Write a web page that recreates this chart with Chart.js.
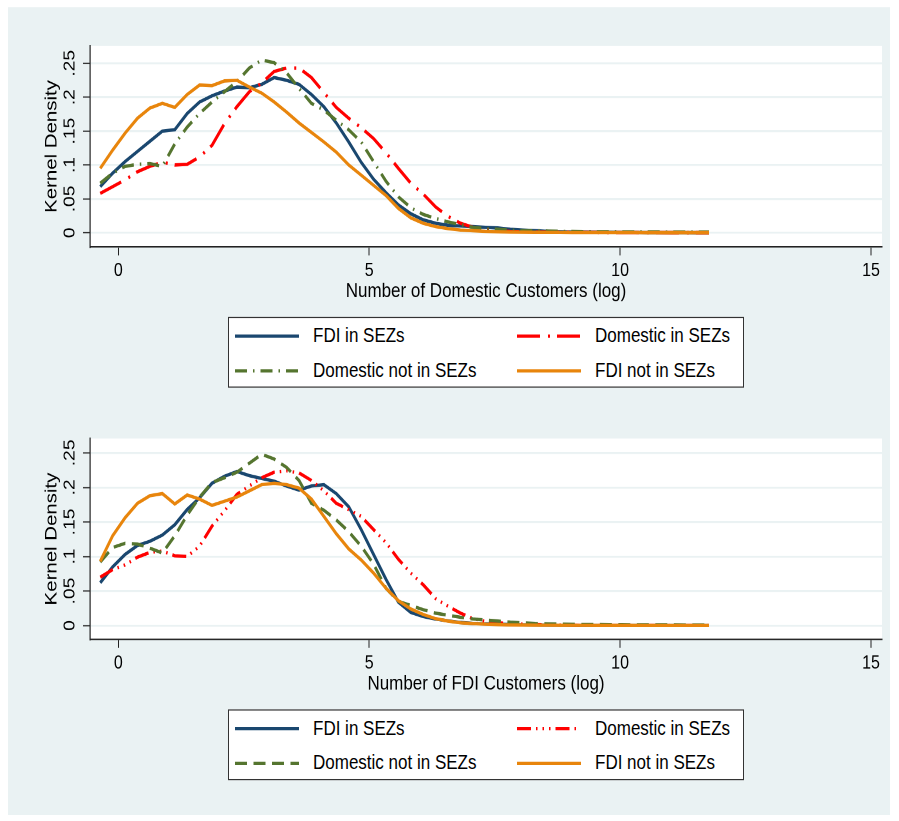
<!DOCTYPE html>
<html>
<head>
<meta charset="utf-8">
<title>Kernel density of customers</title>
<script src="https://cdn.jsdelivr.net/npm/chart.js@4.4.0/dist/chart.umd.min.js"></script>
<style>
  html, body { margin: 0; padding: 0; background: #fff; }
  body { width: 899px; height: 821px; overflow: hidden; }
  #frame { width: 899px; height: 821px; position: relative; overflow: hidden; }
  /* the picture is stretched vertically, so the whole page is drawn short and scaled */
  #page { position: absolute; left: 0; top: 0; width: 899px; height: 684px; transform: scaleY(1.2003); transform-origin: 0 0;
          font-family: "Liberation Sans", Arial, sans-serif; }
  #bg { position: absolute; left: 8px; top: 5.8px; width: 882px; height: 673.2px; background: #eaf2f3; }
  .panel { position: absolute; left: 0; width: 899px; height: 262px; }
  .legend { position: absolute; left: 228px; width: 514px; height: 57px; background: #fff; border: 1px solid #333; }
  .item { position: absolute; height: 20px; line-height: 20px; font-size: 17px; color: #000;
          white-space: nowrap; display: flex; align-items: center; }
  .item svg { margin-right: 14px; display: block; }
</style>
</head>
<body>
<div id="frame">
<div id="page">
  <div id="bg"></div>
  <div class="panel" style="top:0px"><canvas id="chart-domestic"></canvas></div>
  <div class="legend" id="legend-domestic" style="top:264.2px"></div>
  <div class="panel" style="top:327.3px"><canvas id="chart-fdi"></canvas></div>
  <div class="legend" id="legend-fdi" style="top:590.8px"></div>
</div>
</div>
<script>
// evaluation grid of the kernel densities (log number of customers)
var xGrid = [-0.36, -0.112, 0.135, 0.383, 0.630, 0.878, 1.126, 1.373, 1.621, 1.868,
             2.116, 2.364, 2.611, 2.859, 3.106, 3.354, 3.602, 3.849, 4.097, 4.344,
             4.592, 4.840, 5.087, 5.335, 5.582, 5.830, 6.078, 6.325, 6.573, 6.820,
             7.068, 7.316, 7.563, 7.811, 8.058, 8.306, 8.554, 8.801, 9.049, 9.296,
             9.544, 9.792, 10.039, 10.287, 10.534, 10.782, 11.030, 11.277, 11.525, 11.772];

var seriesLabels = ["FDI in SEZs", "Domestic in SEZs", "Domestic not in SEZs", "FDI not in SEZs"];

var xTicks = [0, 5, 10, 15];
var yTicks = [0, 0.05, 0.1, 0.15, 0.2, 0.25];
var yTickLabels = ["0", ".05", ".1", ".15", ".2", ".25"];

// top panel: number of domestic customers
var domFdiIn = [.068, .088, .105, .120, .135, .150, .152, .176, .193, .202,
                .209, .215, .214, .219, .229, .225, .219, .204, .186, .162,
                .134, .104, .079, .059, .041, .028, .019, .014, .011, .010,
                .009, .008, .007, .005, .004, .003, .002, .0015, .001, .001,
                .0008, .0006, .0005, .0004, .0003, .0003, .0002, .0002, .0001, .0001];
var domDomIn = [.058, .068, .078, .090, .098, .104, .100, .101, .112, .129,
                .161, .186, .208, .221, .238, .243, .243, .229, .207, .185,
                .169, .155, .139, .118, .095, .073, .057, .038, .024, .014,
                .008, .005, .003, .002, .0015, .001, .001, .0008, .0006, .0005,
                .0004, .0003, .0003, .0002, .0002, .0002, .0001, .0001, .0001, .0001];
var domDomNot = [.073, .088, .098, .101, .102, .098, .131, .156, .176, .193,
                 .208, .223, .243, .255, .251, .236, .213, .191, .181, .166,
                 .152, .134, .105, .076, .053, .037, .027, .021, .016, .012,
                 .008, .006, .005, .004, .003, .003, .0025, .002, .002, .0018,
                 .0016, .0015, .0014, .0013, .0012, .0012, .0011, .0011, .001, .001];
var domFdiNot = [.095, .122, .147, .169, .184, .191, .185, .204, .218, .217,
                 .224, .225, .215, .206, .193, .178, .162, .148, .134, .119,
                 .100, .085, .070, .055, .036, .022, .014, .009, .006, .004,
                 .003, .002, .0015, .001, .0008, .0006, .0005, .0004, .0003, .0003,
                 .0002, .0002, .0002, .0002, .0001, .0001, .0001, .0001, .0001, .0001];

// bottom panel: number of FDI customers
var fdiFdiIn = [.062, .085, .103, .116, .122, .131, .146, .168, .185, .206,
                .216, .223, .217, .213, .209, .202, .196, .202, .204, .191,
                .172, .139, .103, .067, .034, .019, .013, .0095, .0068, .0045,
                .003, .0025, .002, .0015, .001, .0008, .0006, .0005, .0004, .0003,
                .0003, .0002, .0002, .0002, .0001, .0001, .0001, .0001, .0001, .0001];
var fdiDomIn = [.070, .081, .088, .099, .106, .108, .101, .100, .115, .144,
                .166, .190, .202, .214, .222, .224, .221, .210, .195, .177,
                .168, .158, .139, .120, .096, .076, .059, .039, .028, .018,
                .010, .006, .004, .003, .002, .0015, .001, .0008, .0006, .0005,
                .0004, .0003, .0003, .0002, .0002, .0002, .0001, .0001, .0001, .0001];
var fdiDomNot = [.092, .113, .119, .118, .112, .105, .130, .160, .186, .207,
                 .214, .222, .235, .248, .241, .229, .210, .177, .167, .153,
                 .136, .115, .089, .054, .035, .029, .023, .018, .015, .012,
                 .0097, .008, .0065, .005, .004, .003, .0025, .002, .0018, .0016,
                 .0015, .0014, .0013, .0012, .0012, .0011, .0011, .001, .001, .001];
var fdiFdiNot = [.093, .130, .156, .177, .188, .191, .176, .189, .183, .174,
                 .180, .186, .195, .204, .206, .204, .199, .183, .158, .133,
                 .111, .095, .076, .054, .036, .024, .016, .010, .0065, .004,
                 .003, .002, .0015, .001, .0008, .0006, .0005, .0004, .0003, .0003,
                 .0002, .0002, .0002, .0002, .0001, .0001, .0001, .0001, .0001, .0001];

var colors = ["#1a476f", "#ff0000", "#55752f", "#e8850c"];
var fontFamily = '"Liberation Sans", Arial, sans-serif';

Chart.defaults.font.family = fontFamily;
Chart.defaults.color = "#000";

// white plot region like Stata's plotregion
var plotBackground = {
    id: "plotBackground",
    beforeDraw: function (chart) {
        var a = chart.chartArea;
        var ctx = chart.ctx;
        ctx.save();
        ctx.fillStyle = "#fff";
        ctx.fillRect(a.left, a.top, a.right - a.left, a.bottom - a.top);
        ctx.restore();
    }
};

function sample(color, dash) {
    var d = dash.length ? ' stroke-dasharray="' + dash.join(" ") + '"' : "";
    return '<svg width="64" height="6"><line x1="0" y1="3" x2="64" y2="3" stroke="' + color +
        '" stroke-width="2.6"' + d + '/></svg>';
}

function makePanel(canvasId, legendId, xTitle, series, dashes, yMin, yMax) {
    var datasets = series.map(function (vals, i) {
        return {
            label: seriesLabels[i],
            data: vals.map(function (v, j) { return { x: xGrid[j], y: v }; }),
            borderColor: colors[i],
            borderWidth: 2.8,
            borderDash: dashes[i],
            pointRadius: 0,
            tension: 0,
            fill: false,
            order: 4 - i
        };
    });

    new Chart(document.getElementById(canvasId), {
        type: "line",
        data: { datasets: datasets },
        plugins: [plotBackground],
        options: {
            responsive: true,
            maintainAspectRatio: false,
            animation: false,
            devicePixelRatio: 2,
            layout: { padding: { left: 38, right: 17, top: 38.3, bottom: 0 } },
            plugins: {
                legend: { display: false },
                tooltip: { enabled: false }
            },
            scales: {
                x: {
                    type: "linear",
                    min: -0.564,
                    max: 15.22,
                    afterBuildTicks: function (s) { s.ticks = xTicks.map(function (v) { return { value: v }; }); },
                    afterFit: function (s) { s.height = 56.2; },
                    grid: { drawOnChartArea: false, drawTicks: true, tickLength: 7, tickColor: "#222", tickWidth: 1 },
                    border: { display: true, color: "#222", width: 1.2 },
                    ticks: {
                        autoSkip: false, maxRotation: 0, padding: 3,
                        font: { size: 16 },
                        callback: function (v, i) { return String(xTicks[i]); }
                    },
                    title: { display: true, text: xTitle, font: { size: 17 }, padding: { top: 0, bottom: 8.8 } }
                },
                y: {
                    min: yMin,
                    max: yMax,
                    afterBuildTicks: function (s) { s.ticks = yTicks.map(function (v) { return { value: v }; }); },
                    afterFit: function (s) { s.width = 52; },
                    grid: { color: "#eaf2f3", lineWidth: 1.6, tickLength: 7, tickColor: "#222", tickWidth: 1 },
                    border: { display: true, color: "#222", width: 1.2 },
                    ticks: {
                        minRotation: 90, maxRotation: 90, crossAlign: "center", padding: 2,
                        font: { size: 16 },
                        callback: function (v, i) { return yTickLabels[i]; }
                    },
                    title: { display: true, text: "Kernel Density", font: { size: 17 }, padding: { top: 3.8 } }
                }
            }
        }
    });

    // two-column legend box under the plot
    var pos = [[6, 4.8], [288, 4.8], [6, 34], [288, 34]];
    var html = "";
    for (var i = 0; i < seriesLabels.length; i++) {
        html += '<div class="item" style="left:' + pos[i][0] + 'px;top:' + pos[i][1] + 'px">' +
            sample(colors[i], dashes[i]) + "<span>" + seriesLabels[i] + "</span></div>";
    }
    document.getElementById(legendId).innerHTML = html;
}

makePanel("chart-domestic", "legend-domestic", "Number of Domestic Customers (log)",
    [domFdiIn, domDomIn, domDomNot, domFdiNot],
    [[], [23, 8, 2, 7], [12, 6, 1.5, 6], []],
    -0.0211, 0.2756);

makePanel("chart-fdi", "legend-fdi", "Number of FDI Customers (log)",
    [fdiFdiIn, fdiDomIn, fdiDomNot, fdiFdiNot],
    [[], [14, 5, 1.5, 5, 1.5, 5, 1.5, 5], [12, 6.5], []],
    -0.0202, 0.2708);
</script>
</body>
</html>
